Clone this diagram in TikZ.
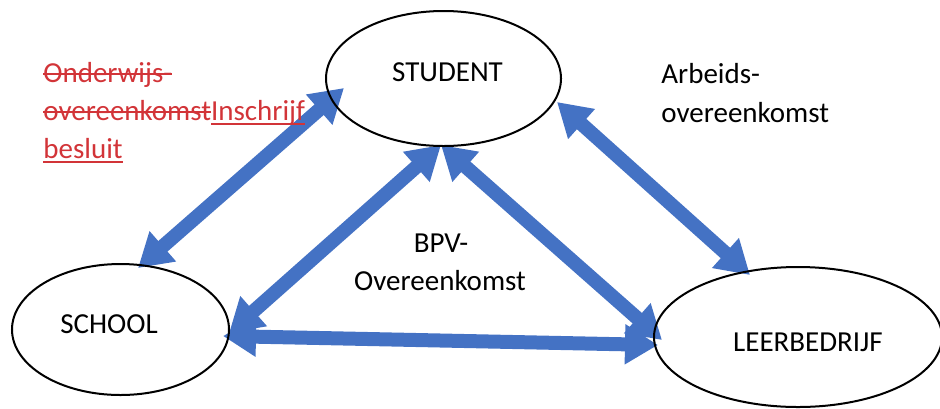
\documentclass[tikz,border=0pt]{standalone}
\usepackage{fontspec}
\setmainfont{Carlito}
\usetikzlibrary{shapes.geometric,arrows.meta}
\pgfdeclarelayer{background}
\pgfsetlayers{background,main}
\definecolor{arrowblue}{HTML}{4472C4}
\definecolor{trackred}{RGB}{210,52,56}
\newcommand\strikeit[1]{\setbox0\hbox{#1}\rlap{\rule[3.6pt]{\wd0}{0.9pt}}\box0}
\newcommand\underit[1]{\setbox0\hbox{#1}\rlap{\rule[-2.45pt]{\wd0}{0.9pt}}\box0}
\tikzset{
  ell/.style={ellipse, draw=black, line width=1pt, inner sep=0pt},
  lbl/.style={inner sep=0pt, font=\fontsize{14.5pt}{19pt}\selectfont},
  dbl/.style={draw=arrowblue, line width=7pt,
    {Triangle[length=16.5pt,width=19pt]}-{Triangle[length=16.5pt,width=19pt]}},
  redtxt/.style={lbl, text=trackred, anchor=base west}
}
\begin{document}
\begin{tikzpicture}[x=0.5pt,y=-0.5pt]
\useasboundingbox (0,0) rectangle (940,408);
% ellipses
\node[ell, minimum width=117.5pt, minimum height=67.5pt] (student) at (443.5,78.5) {};
\node[ell, minimum width=108.5pt, minimum height=65.5pt] (school) at (120.5,329.5) {};
\node[ell, minimum width=144pt, minimum height=70pt] (bedrijf) at (798,337) {};
% labels of ellipses
\node[lbl, anchor=base] (studenttxt) at (447.5,81) {STUDENT};
\node[lbl, anchor=base] (schooltxt) at (109,333) {SCHOOL};
\node[lbl, anchor=base] (bedrijftxt) at (808,351) {LEERBEDRIJF};
% other texts
\node[lbl, anchor=base west] (arb1) at (661,83) {Arbeids-};
\node[lbl, anchor=base west] (arb2) at (661,122) {overeenkomst};
\node[lbl, anchor=base] (bpv1) at (441,252) {BPV-};
\node[lbl, anchor=base] (bpv2) at (440,290) {Overeenkomst};
\node[redtxt] (red1) at (43,82) {\strikeit{Onderwijs-}};
\node[redtxt] (red2) at (43,120) {\strikeit{overeenkomst}\underit{Inschrijf}};
\node[redtxt] (red3) at (43,158) {\underit{besluit}};
% arrow end points
\coordinate (scA) at (138,268);
\coordinate (stA) at (344,88);
\coordinate (scB) at (229,333);
\coordinate (stB) at (441,145);
\coordinate (scC) at (223,336);
\coordinate (lbC) at (658,345);
\coordinate (stD) at (441,145);
\coordinate (lbD) at (662,340);
\coordinate (stE) at (557,102);
\coordinate (lbE) at (750,275);
\begin{pgfonlayer}{background}
\draw[dbl] (scA) -- (stA);
\draw[dbl] (scB) -- (stB);
\draw[dbl] (scC) -- (lbC);
\draw[dbl] (stD) -- (lbD);
\draw[dbl] (stE) -- (lbE);
\end{pgfonlayer}
\end{tikzpicture}
\end{document}
